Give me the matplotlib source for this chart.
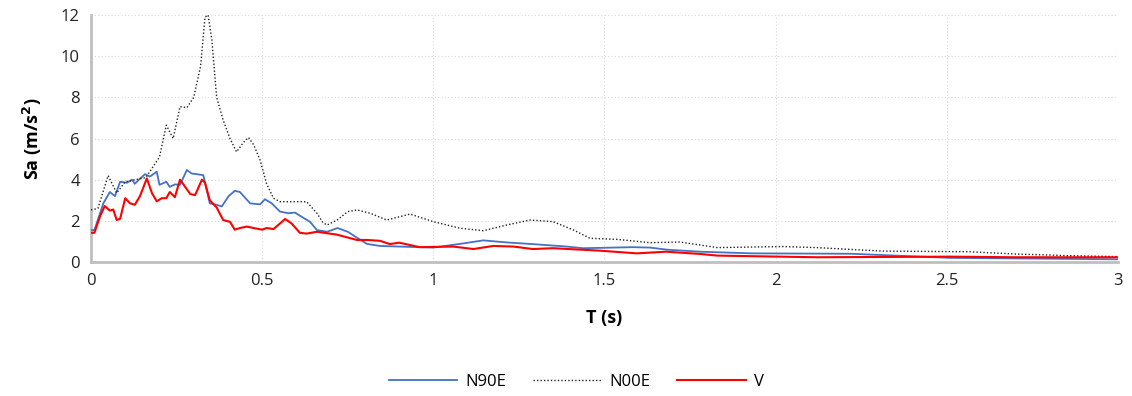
import matplotlib
matplotlib.use("Agg")
import matplotlib.pyplot as plt

# N90E (blue)
t_n90e = [0.0, 0.01, 0.036, 0.055, 0.07, 0.085, 0.105, 0.12, 0.128, 0.143, 0.158, 0.172, 0.192, 0.2,
          0.22, 0.23, 0.245, 0.26, 0.28, 0.294, 0.308, 0.328, 0.347, 0.367, 0.382, 0.402, 0.42, 0.435,
          0.465, 0.494, 0.508, 0.528, 0.552, 0.576, 0.596, 0.615, 0.64, 0.66, 0.69, 0.72, 0.75, 0.78,
          0.806, 0.844, 0.9, 1.0, 1.078, 1.146, 1.215, 1.29, 1.39, 1.437, 1.583, 1.633, 1.682, 1.75,
          1.78, 1.93, 2.22, 2.51, 2.8, 3.0]
sa_n90e = [1.55, 1.55, 2.85, 3.4, 3.2, 3.9, 3.85, 4.0, 3.8, 4.05, 4.27, 4.15, 4.39, 3.75,
           3.9, 3.65, 3.77, 3.75, 4.47, 4.3, 4.27, 4.22, 2.85, 2.78, 2.7, 3.2, 3.46, 3.4,
           2.85, 2.8, 3.05, 2.85, 2.45, 2.37, 2.4, 2.2, 1.95, 1.55, 1.47, 1.65, 1.47, 1.15,
           0.88, 0.78, 0.75, 0.7, 0.88, 1.05, 0.95, 0.87, 0.75, 0.67, 0.72, 0.7, 0.6, 0.53,
           0.5, 0.42, 0.4, 0.2, 0.16, 0.13]

# N00E (black dotted)
t_n00e = [0.0, 0.02, 0.05, 0.075, 0.1, 0.13, 0.16, 0.18, 0.2, 0.22, 0.24, 0.26, 0.28, 0.3, 0.32,
          0.333, 0.342, 0.353, 0.367, 0.386, 0.406, 0.425, 0.445, 0.46, 0.475, 0.494, 0.513, 0.533,
          0.552, 0.58, 0.63, 0.66, 0.678, 0.69, 0.72, 0.75, 0.777, 0.815, 0.864, 0.932, 1.0, 1.078,
          1.146, 1.215, 1.283, 1.35, 1.41, 1.458, 1.536, 1.633, 1.72, 1.83, 2.02, 2.12, 2.31, 2.56,
          2.7, 2.85, 3.0]
sa_n00e = [2.53, 2.6, 4.2, 3.35, 3.9, 4.0, 4.1, 4.6, 5.1, 6.65, 6.0, 7.55, 7.5, 8.0, 9.5,
           11.9, 12.0, 10.8, 8.0, 6.9, 6.0, 5.35, 5.8, 6.05, 5.7, 4.95, 3.8, 3.1,
           2.93, 2.93, 2.93, 2.37, 1.9, 1.8, 2.05, 2.45, 2.53, 2.37, 2.04, 2.33, 1.96, 1.64,
           1.52, 1.8, 2.04, 1.96, 1.55, 1.15, 1.1, 0.94, 0.97, 0.7, 0.75, 0.7, 0.53, 0.5,
           0.39, 0.31, 0.26]

# V (red)
t_v = [0.0, 0.01, 0.026, 0.04, 0.055, 0.065, 0.075, 0.085, 0.1, 0.114, 0.128, 0.143, 0.163, 0.178,
       0.192, 0.207, 0.22, 0.23, 0.245, 0.26, 0.275, 0.29, 0.304, 0.324, 0.333, 0.347, 0.367, 0.386,
       0.406, 0.42, 0.435, 0.455, 0.475, 0.5, 0.513, 0.533, 0.552, 0.567, 0.586, 0.61, 0.63, 0.66,
       0.718, 0.777, 0.806, 0.844, 0.873, 0.9, 0.96, 1.058, 1.117, 1.175, 1.234, 1.29, 1.35, 1.487,
       1.594, 1.68, 1.78, 1.83, 2.12, 2.51, 2.7, 3.0]
sa_v = [1.42, 1.42, 2.2, 2.72, 2.5, 2.55, 2.04, 2.1, 3.1, 2.85, 2.78, 3.2, 4.06, 3.35,
        2.95, 3.1, 3.1, 3.4, 3.15, 4.0, 3.65, 3.3, 3.25, 4.0, 3.85, 3.0, 2.65, 2.04,
        1.95, 1.57, 1.65, 1.72, 1.65, 1.57, 1.65, 1.6, 1.87, 2.09, 1.87, 1.42, 1.38, 1.47,
        1.33, 1.07, 1.07, 1.03, 0.87, 0.94, 0.72, 0.75, 0.63, 0.78, 0.75, 0.63, 0.67, 0.55,
        0.42, 0.5, 0.39, 0.31, 0.23, 0.26, 0.23, 0.23]

x_ticks = [0, 0.5, 1, 1.5, 2, 2.5, 3]
x_ticklabels = ["0", "0.5", "1", "1.5", "2", "2.5", "3"]
y_ticks = [0, 2, 4, 6, 8, 10, 12]

plt.rcParams['font.family'] = ['Open Sans', 'DejaVu Sans']

fig = plt.figure(figsize=(11.32, 3.96), dpi=100)
ax = fig.add_axes([0.0804, 0.3384, 0.9072, 0.6236])

ax.plot(t_n90e, sa_n90e, color='#4472C4', lw=1.3, label='N90E', zorder=3)
ax.plot(t_n00e, sa_n00e, color='#222222', lw=1.0, ls=(0, (1, 1.5)), label='N00E', zorder=3)
ax.plot(t_v, sa_v, color='#FF0000', lw=1.5, label='V', zorder=4)

ax.set_xlim(0, 3)
ax.set_ylim(0, 12)
ax.set_xticks(x_ticks)
ax.set_xticklabels(x_ticklabels)
ax.set_yticks(y_ticks)
ax.tick_params(axis='both', length=0, labelsize=12, colors='#222222', pad=8)
ax.grid(True, color='#d9d9d9', ls=(0, (1, 2)), lw=0.8)
ax.set_axisbelow(True)
for s in ['top', 'right']:
    ax.spines[s].set_visible(False)
for s in ['left', 'bottom']:
    ax.spines[s].set_color('#bfbfbf')
    ax.spines[s].set_linewidth(2)

ax.set_xlabel('T (s)', fontsize=13, fontweight='bold', labelpad=14)
ax.set_ylabel('Sa (m/s$^\\mathbf{2}$)', fontsize=13, fontweight='bold', labelpad=12)

fig.legend(loc='center', bbox_to_anchor=(0.509, 0.035), ncol=3, frameon=False,
           fontsize=12, handlelength=4.1, columnspacing=1.6, handletextpad=0.5)

fig.savefig('out.png', dpi=100)
